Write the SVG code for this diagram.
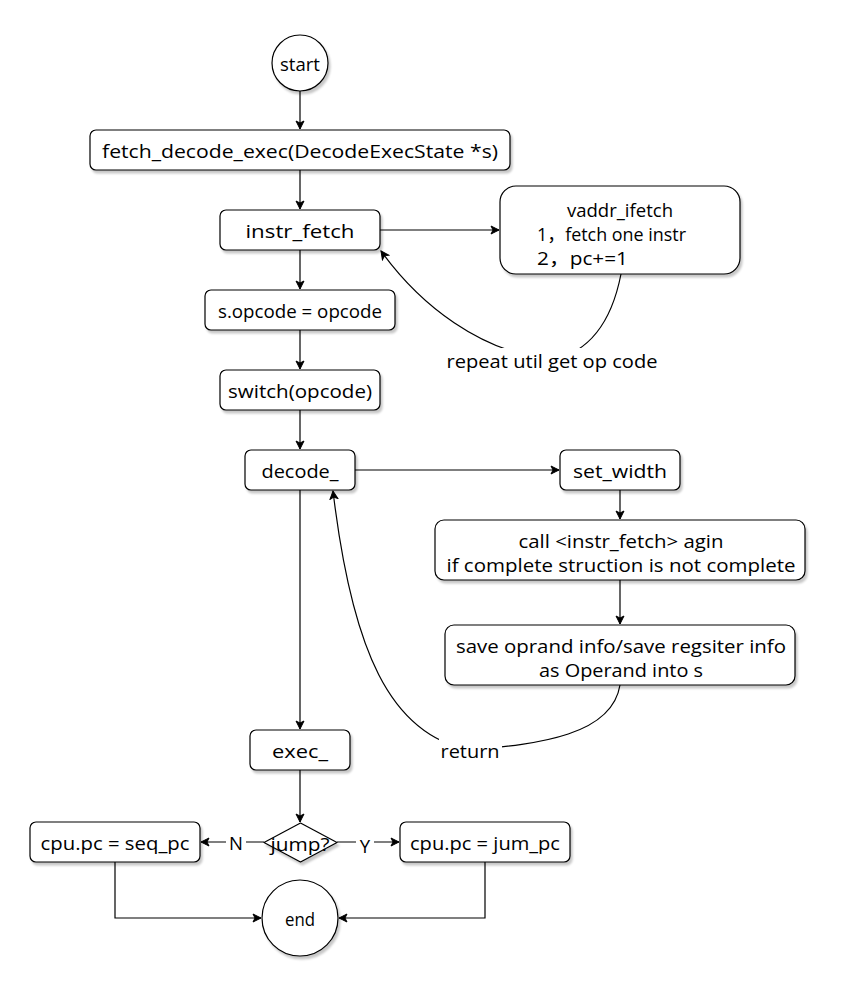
<svg xmlns="http://www.w3.org/2000/svg" width="842" height="994" viewBox="0 0 842 994">
<style>
.n{fill:#fff;stroke:#000;stroke-width:1.2;filter:url(#sh)}
.t{font-family:"Open Sans","Liberation Sans","Noto Sans CJK SC",sans-serif;font-size:18.5px;fill:#000;text-anchor:middle;dominant-baseline:central}
.s{text-anchor:start}
.e{fill:none;stroke:#000;stroke-width:1.2}
.lb{fill:#fff}
</style>
<defs>
<filter id="sh" x="-10%" y="-10%" width="130%" height="140%">
<feDropShadow dx="2" dy="3" stdDeviation="1.2" flood-color="#000" flood-opacity="0.22"/>
</filter>
<marker id="a" markerWidth="10" markerHeight="10" refX="9" refY="5" orient="auto" markerUnits="userSpaceOnUse">
<path d="M1,1 L9,5 L1,9 L3,5 z" fill="#000" stroke="#000" stroke-width="1"/>
</marker>
</defs>
<rect width="842" height="994" fill="#fff"/>

<g id="connectors">
<path class="e" d="M300 91 V129" marker-end="url(#a)"/>
<path class="e" d="M300 170 V209" marker-end="url(#a)"/>
<path class="e" d="M380 230 H499" marker-end="url(#a)"/>
<path class="e" d="M300 250 V289" marker-end="url(#a)"/>
<path class="e" d="M300 330 V369" marker-end="url(#a)"/>
<path class="e" d="M300 410 V449" marker-end="url(#a)"/>
<path class="e" d="M621 274 C612 320 590 352 552 360 C480 352 420 305 381 251" marker-end="url(#a)"/>
<path class="e" d="M355 470 H559" marker-end="url(#a)"/>
<path class="e" d="M620 490 V519" marker-end="url(#a)"/>
<path class="e" d="M620 580 V624" marker-end="url(#a)"/>
<path class="e" d="M620 685 C612 735 540 744 470 750 C390 735 352 650 333 491" marker-end="url(#a)"/>
<path class="e" d="M300 490 V729" marker-end="url(#a)"/>
<path class="e" d="M300 770 V822" marker-end="url(#a)"/>
<path class="e" d="M264 842 H201" marker-end="url(#a)"/>
<path class="e" d="M337 842 H399" marker-end="url(#a)"/>
<path class="e" d="M115 862 V918 H261" marker-end="url(#a)"/>
<path class="e" d="M485 862 V918 H339" marker-end="url(#a)"/>
<rect class="lb" x="445" y="348" width="215" height="25"/>
<text class="t" x="552" y="360" textLength="211" lengthAdjust="spacingAndGlyphs">repeat util get op code</text>
<rect class="lb" x="439" y="738" width="63" height="25"/>
<text class="t" x="470" y="750" textLength="59" lengthAdjust="spacingAndGlyphs">return</text>
<rect class="lb" x="226" y="831" width="20" height="22"/>
<text class="t" x="236" y="842">N</text>
<rect class="lb" x="356" y="833" width="18" height="22"/>
<text class="t" x="365" y="845">Y</text>
</g>

<g id="start"><circle class="n" cx="300" cy="63" r="28"/><text class="t" x="300" y="63" textLength="40" lengthAdjust="spacingAndGlyphs">start</text></g>
<g id="fetch_decode_exec"><rect class="n" x="90" y="130" width="420" height="40" rx="6"/><text class="t" x="300" y="150" textLength="396" lengthAdjust="spacingAndGlyphs">fetch_decode_exec(DecodeExecState *s)</text></g>
<g id="instr_fetch"><rect class="n" x="220" y="210" width="160" height="40" rx="6"/><text class="t" x="300" y="230" textLength="109" lengthAdjust="spacingAndGlyphs">instr_fetch</text></g>
<g id="vaddr_ifetch"><rect class="n" x="500" y="186" width="240" height="88" rx="16"/>
<text class="t" x="620" y="209" textLength="106" lengthAdjust="spacingAndGlyphs">vaddr_ifetch</text>
<text class="t s" x="537" y="233" textLength="149" lengthAdjust="spacingAndGlyphs">1，fetch one instr</text>
<text class="t s" x="537" y="257" textLength="91" lengthAdjust="spacingAndGlyphs">2，pc+=1</text></g>
<g id="s_opcode"><rect class="n" x="205" y="290" width="190" height="40" rx="6"/><text class="t" x="300" y="310" textLength="164" lengthAdjust="spacingAndGlyphs">s.opcode = opcode</text></g>
<g id="switch"><rect class="n" x="220" y="370" width="160" height="40" rx="6"/><text class="t" x="300" y="390" textLength="144" lengthAdjust="spacingAndGlyphs">switch(opcode)</text></g>
<g id="decode"><rect class="n" x="245" y="450" width="110" height="40" rx="6"/><text class="t" x="300" y="470" textLength="77" lengthAdjust="spacingAndGlyphs">decode_</text></g>
<g id="set_width"><rect class="n" x="560" y="450" width="120" height="40" rx="6"/><text class="t" x="620" y="470" textLength="94" lengthAdjust="spacingAndGlyphs">set_width</text></g>
<g id="call_instr_fetch"><rect class="n" x="435" y="520" width="370" height="60" rx="9"/>
<text class="t" x="621" y="540" textLength="205" lengthAdjust="spacingAndGlyphs">call &lt;instr_fetch&gt; agin</text>
<text class="t" x="621" y="564" textLength="349" lengthAdjust="spacingAndGlyphs">if complete struction is not complete</text></g>
<g id="save_oprand"><rect class="n" x="445" y="625" width="350" height="60" rx="9"/>
<text class="t" x="621" y="645" textLength="330" lengthAdjust="spacingAndGlyphs">save oprand info/save regsiter info</text>
<text class="t" x="621" y="669" textLength="164" lengthAdjust="spacingAndGlyphs">as Operand into s</text></g>
<g id="exec"><rect class="n" x="250" y="730" width="100" height="40" rx="6"/><text class="t" x="300" y="750" textLength="56" lengthAdjust="spacingAndGlyphs">exec_</text></g>
<g id="jump"><path class="n" d="M300.5 823 L337 842.5 L300.5 862 L264 842.5 Z" stroke-linejoin="round"/><text class="t" x="300" y="843" textLength="59" lengthAdjust="spacingAndGlyphs">jump?</text></g>
<g id="seq_pc"><rect class="n" x="30" y="822" width="170" height="40" rx="6"/><text class="t" x="115" y="842" textLength="149" lengthAdjust="spacingAndGlyphs">cpu.pc = seq_pc</text></g>
<g id="jum_pc"><rect class="n" x="400" y="822" width="170" height="40" rx="6"/><text class="t" x="485" y="842" textLength="150" lengthAdjust="spacingAndGlyphs">cpu.pc = jum_pc</text></g>
<g id="end"><circle class="n" cx="300" cy="918" r="38"/><text class="t" x="300" y="918" textLength="30" lengthAdjust="spacingAndGlyphs">end</text></g>
</svg>
